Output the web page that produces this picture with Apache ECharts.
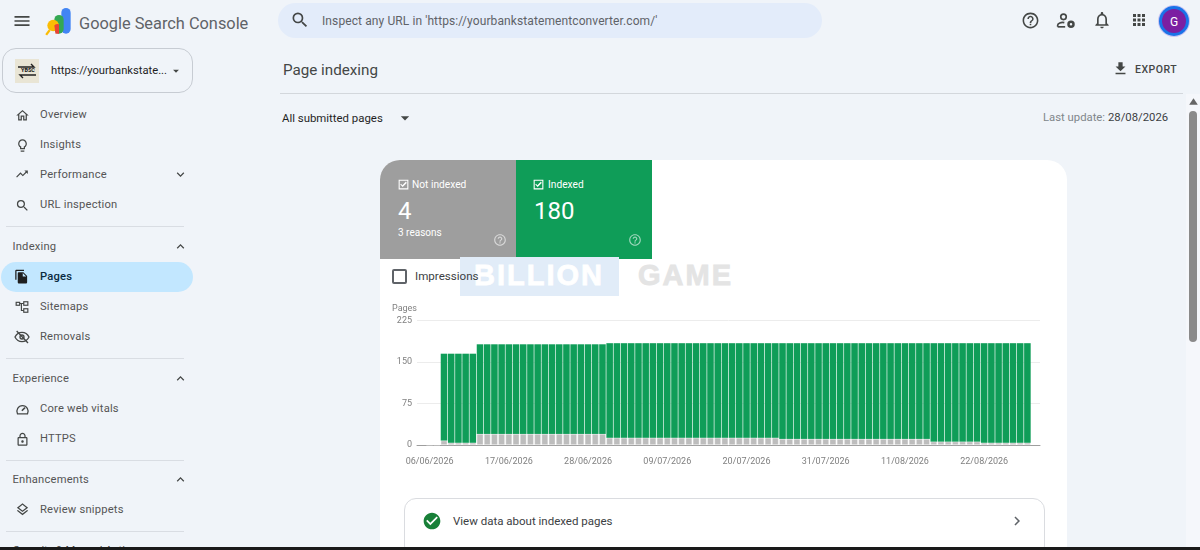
<!DOCTYPE html>
<html>
<head>
<meta charset="utf-8">
<script src="https://cdn.jsdelivr.net/npm/echarts@6/dist/echarts.min.js"></script>
<style>
html,body{margin:0;padding:0;width:1200px;height:550px;overflow:hidden;background:#f0f4f9;font-family:Roboto,sans-serif}
.box{position:absolute;box-sizing:border-box}
.t{position:absolute;white-space:nowrap;transform:translateY(-50%);line-height:1}
svg{position:absolute}
#salesChart{position:absolute;left:380px;top:300px;width:680px;height:170px}
</style>
</head>
<body>
<div id="page"></div>
<div id="salesChart"></div>
<script>
'use strict'
var dates = [
  '06/06/2026','07/06/2026','08/06/2026','09/06/2026','10/06/2026','11/06/2026','12/06/2026','13/06/2026','14/06/2026','15/06/2026','16/06/2026',
  '17/06/2026','18/06/2026','19/06/2026','20/06/2026','21/06/2026','22/06/2026','23/06/2026','24/06/2026','25/06/2026','26/06/2026','27/06/2026',
  '28/06/2026','29/06/2026','30/06/2026','01/07/2026','02/07/2026','03/07/2026','04/07/2026','05/07/2026','06/07/2026','07/07/2026','08/07/2026',
  '09/07/2026','10/07/2026','11/07/2026','12/07/2026','13/07/2026','14/07/2026','15/07/2026','16/07/2026','17/07/2026','18/07/2026','19/07/2026',
  '20/07/2026','21/07/2026','22/07/2026','23/07/2026','24/07/2026','25/07/2026','26/07/2026','27/07/2026','28/07/2026','29/07/2026','30/07/2026',
  '31/07/2026','01/08/2026','02/08/2026','03/08/2026','04/08/2026','05/08/2026','06/08/2026','07/08/2026','08/08/2026','09/08/2026','10/08/2026',
  '11/08/2026','12/08/2026','13/08/2026','14/08/2026','15/08/2026','16/08/2026','17/08/2026','18/08/2026','19/08/2026','20/08/2026','21/08/2026',
  '22/08/2026','23/08/2026','24/08/2026','25/08/2026','26/08/2026','27/08/2026','28/08/2026'
];
var notIndexed = [
  0,0,8,4,4,4,4,
  20,20,20,20,20,20,20,20,20,20,20,20,20,20,20,20,20,20,
  13,13,13,13,13,13,13,13,13,13,13,13,13,13,13,13,13,13,13,13,13,13,13,13,
  11,11,11,11,11,11,11,11,11,11,11,11,11,11,11,11,11,11,11,11,11,
  6,6,6,6,6,6,6,
  4,4,4,4,4,4,4
];
var indexed = [
  0,0,157,161,161,161,161,
  162,162,162,162,162,162,162,162,162,162,162,162,162,162,162,162,162,162,
  171,171,171,171,171,171,171,171,171,171,171,171,171,171,171,171,171,171,171,171,171,171,171,171,
  173,173,173,173,173,173,173,173,173,173,173,173,173,173,173,173,173,173,173,173,173,
  178,178,178,178,178,178,178,
  180,180,180,180,180,180,180
];

// page around the chart
var page = document.getElementById('page');
var P = {
  menu:'M3 18h18v-2H3v2zm0-5h18v-2H3v2zm0-7v2h18V6H3z',
  search:'M15.5 14h-.79l-.28-.27A6.471 6.471 0 0 0 16 9.5 6.5 6.5 0 1 0 9.5 16c1.61 0 3.09-.59 4.23-1.57l.27.28v.79l5 4.99L20.49 19l-4.99-5zm-6 0C7.01 14 5 11.99 5 9.5S7.01 5 9.5 5 14 7.01 14 9.5 11.99 14 9.5 14z',
  help:'M11 18h2v-2h-2v2zm1-16C6.48 2 2 6.48 2 12s4.48 10 10 10 10-4.48 10-10S17.52 2 12 2zm0 18c-4.41 0-8-3.59-8-8s3.59-8 8-8 8 3.59 8 8-3.59 8-8 8zm0-14c-2.21 0-4 1.79-4 4h2c0-1.1.9-2 2-2s2 .9 2 2c0 2-3 1.75-3 5h2c0-2.25 3-2.5 3-5 0-2.21-1.79-4-4-4z',
  bell:'M12 22c1.1 0 2-.9 2-2h-4c0 1.1.89 2 2 2zm6-6v-5c0-3.07-1.64-5.64-4.5-6.32V4c0-.83-.67-1.5-1.5-1.5s-1.5.67-1.5 1.5v.68C7.63 5.36 6 7.92 6 11v5l-2 2v1h16v-1l-2-2zm-2 1H8v-6c0-2.48 1.51-4.5 4-4.5s4 2.02 4 4.5v6z',
  apps:'M4 8h4V4H4v4zm6 12h4v-4h-4v4zm-6 0h4v-4H4v4zm0-6h4v-4H4v4zm6 0h4v-4h-4v4zm6-10v4h4V4h-4zm-6 4h4V4h-4v4zm6 6h4v-4h-4v4zm0 6h4v-4h-4v4z',
  home:'M12 5.69l5 4.5V18h-2v-6H9v6H7v-7.81l5-4.5M12 3L2 12h3v8h6v-6h2v6h6v-8h3L12 3z',
  bulb:'M9 21c0 .55.45 1 1 1h4c.55 0 1-.45 1-1v-1H9v1zm3-19C8.14 2 5 5.14 5 9c0 2.38 1.19 4.47 3 5.74V17c0 .55.45 1 1 1h6c.55 0 1-.45 1-1v-2.26c1.81-1.27 3-3.36 3-5.74 0-3.86-3.14-7-7-7zm2.85 11.1l-.85.6V16h-4v-2.3l-.85-.6C7.8 12.16 7 10.63 7 9c0-2.76 2.24-5 5-5s5 2.24 5 5c0 1.63-.8 3.16-2.15 4.1z',
  trend:'M16 6l2.29 2.29-4.88 4.88-4-4L2 16.59 3.41 18l6-6 4 4 6.3-6.29L22 12V6z',
  more:'M16.59 8.59L12 13.17 7.41 8.59 6 10l6 6 6-6z',
  less:'M12 8l-6 6 1.41 1.41L12 10.83l4.59 4.58L18 14z',
  pages:'M16 1H4c-1.1 0-2 .9-2 2v14h2V3h12V1zm-1 4l6 6v10c0 1.1-.9 2-2 2H7.99C6.89 23 6 22.1 6 21l.01-14c0-1.1.89-2 1.99-2h7zm-1 7h5.5L14 6.5V12z',
  lock:'M18 8h-1V6c0-2.76-2.24-5-5-5S7 3.24 7 6v2H6c-1.1 0-2 .9-2 2v10c0 1.1.9 2 2 2h12c1.1 0 2-.9 2-2V10c0-1.1-.9-2-2-2zM9 6c0-1.66 1.34-3 3-3s3 1.34 3 3v2H9V6zm9 14H6V10h12v10zm-6-3c1.1 0 2-.9 2-2s-.9-2-2-2-2 .9-2 2 .9 2 2 2z',
  layers:'M11.99 18.54l-7.37-5.73L3 14.07l9 7 9-7-1.63-1.27-7.38 5.74zM12 16l7.36-5.73L21 9l-9-7-9 7 1.63 1.27L12 16zm0-11.47L17.74 9 12 13.47 6.26 9 12 4.53z',
  check:'M12 2C6.48 2 2 6.48 2 12s4.48 10 10 10 10-4.48 10-10S17.52 2 12 2zm-2 15l-5-5 1.41-1.41L10 14.17l7.59-7.59L19 8l-9 9z',
  right:'M10 6L8.59 7.41 13.17 12l-4.58 4.59L10 18l6-6z',
  down:'M19 9h-4V3H9v6H5l7 7 7-7zM5 18v2h14v-2H5z',
  drop:'M7 10l5 5 5-5z',
  tick:'M3 3h18v18H3V3zm2 2v14h14V5H5zm5 11l-4-4 1.4-1.4 2.6 2.6 6.6-6.6L18 9l-8 8z'
};
function box(x, y, w, h, css) {
  var d = document.createElement('div');
  d.className = 'box';
  d.style.cssText = 'left:' + x + 'px;top:' + y + 'px;width:' + w + 'px;height:' + h + 'px;' + (css || '');
  page.appendChild(d);
}
function text(s, x, y, size, color, css) {
  var d = document.createElement('div');
  d.className = 't';
  d.textContent = s;
  d.style.cssText = 'left:' + x + 'px;top:' + y + 'px;font-size:' + size + 'px;color:' + color + ';' + (css || '');
  page.appendChild(d);
}
function svg(inner, cx, cy, size, color) {
  var s = '<svg viewBox="0 0 24 24" width="' + size + '" height="' + size + '" style="left:' + (cx - size / 2) + 'px;top:' + (cy - size / 2) + 'px;color:' + color + '">' + inner + '</svg>';
  page.insertAdjacentHTML('beforeend', s);
}
function icon(name, cx, cy, size, color) {
  svg('<path fill="currentColor" d="' + P[name] + '"/>', cx, cy, size, color);
}

// header
icon('menu', 22, 21, 20, '#444746');
svg('<rect x="14" y="0" width="8" height="22" rx="4" fill="#4285f4"/><rect x="8" y="6" width="8" height="16" rx="4" fill="#34a853"/><circle cx="7" cy="15" r="5" fill="#fbbc04"/><path d="M8 15a4 4 0 0 1 4-1v8H9z" fill="#ea4335"/><path d="M4 19l-3 4" stroke="#fbbc04" stroke-width="2"/>', 59, 22, 28, '#000');
text('Google Search Console', 79, 23.5, 16.35, '#5f6368');
box(278, 3, 544, 35, 'background:#e3ecfa;border-radius:18px');
icon('search', 300, 20, 20, '#444746');
text("Inspect any URL in 'https://yourbankstatementconverter.com/'", 322, 20.5, 12, '#5f6368', 'letter-spacing:.1px');
icon('help', 1030, 20, 19, '#444746');
svg('<circle cx="9" cy="7" r="3.3" fill="none" stroke="currentColor" stroke-width="2"/><path d="M2 19v-2c0-2 4-4 8-3" fill="none" stroke="currentColor" stroke-width="2"/><path d="M2 19h9" stroke="currentColor" stroke-width="2"/><circle cx="18" cy="16" r="3" fill="none" stroke="currentColor" stroke-width="3"/>', 1066, 21, 20, '#444746');
icon('bell', 1102, 20, 20, '#444746');
icon('apps', 1139, 20, 18, '#444746');
box(1159, 6, 30, 30, 'border-radius:50%;background:#1a73e8;box-shadow:0 0 0 1px #c9c4f2');
box(1162, 9, 24, 24, 'border-radius:50%;background:#7b1fa2');
text('G', 1170, 21.5, 12, '#fff');

// sidebar
box(2, 48, 191, 45, 'border:1px solid #c7ccd3;border-radius:14px');
box(15, 59, 24, 24, 'background:#e9e5d5');
svg('<path d="M3 8h16l-3-3M21 16H5l3 3" fill="none" stroke="#222" stroke-width="1.4"/>', 27, 71, 24, '#222');
text('YBSC', 21, 71, 5.5, '#111', 'font-weight:700');
text('https://yourbankstate...', 51, 70.5, 11.2, '#1f1f1f');
icon('drop', 176, 71, 14, '#444746');
box(1, 262, 192, 30, 'background:#c2e7ff;border-radius:15px');
var navNames = ['Overview','Insights','Performance','URL inspection','Pages','Sitemaps','Removals','Core web vitals','HTTPS','Review snippets'];
var navY = [115,145,175,205,277,307,337,409,439,510];
navNames.forEach(function (n, i) {
  text(n, 40, navY[i], 11.2, n === 'Pages' ? '#0b2b3f' : '#555', 'letter-spacing:.2px' + (n === 'Pages' ? ';font-weight:500' : ''));
});
icon('home', 22, 115, 15, '#444746');
icon('bulb', 22, 145, 15, '#444746');
icon('trend', 22, 174, 14, '#444746');
icon('search', 22, 205, 15, '#444746');
icon('pages', 21, 276, 15, '#1f1f1f');
svg('<rect x="2" y="4" width="6" height="5" fill="none" stroke="currentColor" stroke-width="2"/><rect x="15" y="3" width="7" height="6" fill="none" stroke="currentColor" stroke-width="2"/><rect x="15" y="15" width="7" height="6" fill="none" stroke="currentColor" stroke-width="2"/><path d="M8 6h7M11 6v12h4" fill="none" stroke="currentColor" stroke-width="2"/>', 22, 307, 14, '#444746');
svg('<path d="M1.5 12C4 7 8 5 12 5s8 2 10.5 7C20 17 16 19 12 19S4 17 1.5 12z" fill="none" stroke="currentColor" stroke-width="2"/><circle cx="12" cy="12" r="3" fill="none" stroke="currentColor" stroke-width="2"/><path d="M4 3l17 18" stroke="currentColor" stroke-width="2"/>', 22, 337, 16, '#444746');
svg('<path d="M4 19a9 9 0 1 1 16 0z" fill="none" stroke="currentColor" stroke-width="2"/><path d="M11 14l5-5" stroke="currentColor" stroke-width="2.5"/>', 22, 409, 15, '#444746');
icon('lock', 22, 439, 15, '#444746');
icon('layers', 22, 509, 15, '#444746');
var headNames = ['Indexing','Experience','Enhancements'];
var headY = [247,379,480];
headNames.forEach(function (n, i) {
  text(n, 12.5, headY[i], 11.2, '#555', 'letter-spacing:.2px');
  icon('less', 180, headY[i] - 0.5, 15, '#444746');
});
icon('more', 180, 174.5, 15, '#444746');
[226,358,460,531].forEach(function (y) { box(6, y, 178, 1, 'background:#d9dde3'); });
text('Security & Manual Actions', 13, 551, 11.2, '#444');

// title row
text('Page indexing', 283, 70.5, 15.2, '#444746');
box(280, 93, 903, 1, 'background:#d3d7dc');
icon('down', 1120, 68, 17, '#444746');
text('EXPORT', 1135, 69.5, 10.5, '#444746', 'letter-spacing:.5px;font-weight:500');
text('All submitted pages', 282, 118.5, 11.4, '#1f1f1f');
icon('drop', 405, 118, 20, '#444746');
text('Last update:', 1043, 117.5, 11.3, '#80868b');
text('28/08/2026', 1108, 117.5, 11.3, '#3c4043');

// scrollbar
box(1186, 94, 14, 454, 'background:#f5f7fb');
svg('<path d="M4 18L12 6l8 12z" fill="currentColor"/>', 1193, 101, 13, '#666');
box(1189, 111, 8, 231, 'background:#8a8a8a;border-radius:4px');

// card with the two status tiles
box(380, 160, 687, 400, 'background:#fff;border-radius:20px 20px 0 0');
box(380, 160, 136, 99, 'background:#9e9e9e;border-radius:20px 0 0 0');
box(516, 160, 136, 99, 'background:#0f9d58');
icon('tick', 403, 184, 13, '#fff');
text('Not indexed', 412, 184.5, 10.2, '#fff');
text('4', 398, 211, 24, '#fff');
text('3 reasons', 398, 232.5, 10, '#fff');
icon('help', 500, 240, 14, 'rgba(255,255,255,.6)');
icon('tick', 538, 184, 13, '#fff');
text('Indexed', 548, 184.5, 10.2, '#fff');
text('180', 534, 211, 24, '#fff');
icon('help', 635, 240, 14, 'rgba(255,255,255,.6)');

// impressions toggle and watermark
var wmark = 'font-weight:700;letter-spacing:2px;font-family:Liberation Sans;-webkit-text-stroke:.8px ';
box(460, 257, 159, 39, 'background:#e1ecf8');
text('BILLION', 474, 275, 29, '#fff', wmark + '#fff');
text('GAME', 638, 275, 29, '#e4e4e4', wmark + '#e4e4e4');
box(392, 269, 15, 15, 'border:2px solid #5f6368;border-radius:2px');
text('Impressions', 415, 276.5, 11.6, '#3c4043');

// row under the chart
box(404, 498, 641, 60, 'border:1px solid #dadce0;border-radius:12px;background:#fff');
icon('check', 432, 521, 20, '#188038');
text('View data about indexed pages', 453, 521.5, 11.5, '#3c4043');
icon('right', 1017, 521, 18, '#5f6368');
box(0, 547, 1200, 3, 'background:#1a1a1a');

var salesChart_chart = echarts.init(document.getElementById('salesChart'));
salesChart_chart.setOption({
  animation: false,
  grid: [
    { left: 37, top: 20.5, width: 623, height: 124.5 },
    { left: 46, top: 20.5, width: 605, height: 124.5 }
  ],
  xAxis: [
    {
      type: 'category',
      gridIndex: 0,
      data: [''],
      axisTick: { show: false },
      axisLabel: { show: false },
      axisLine: { lineStyle: { color: '#9e9e9e', width: 1 } }
    },
    {
      type: 'category',
      gridIndex: 1,
      data: dates,
      axisTick: { show: false },
      axisLine: { show: false },
      axisLabel: {
        interval: 10,
        hideOverlap: false,
        margin: 12,
        color: '#808080',
        fontFamily: 'Roboto',
        fontSize: 9
      }
    }
  ],
  yAxis: [
    {
      type: 'value',
      gridIndex: 0,
      min: 0,
      max: 225,
      interval: 75,
      name: 'Pages',
      nameGap: 7,
      nameTextStyle: { color: '#808080', fontFamily: 'Roboto', fontSize: 9, align: 'right' },
      axisLine: { show: false },
      axisTick: { show: false },
      axisLabel: { margin: 5, padding: [4, 0, 0, 0], color: '#808080', fontFamily: 'Roboto', fontSize: 9 },
      splitLine: { lineStyle: { color: '#ececec', width: 1 } }
    },
    {
      type: 'value',
      gridIndex: 1,
      min: 0,
      max: 225,
      interval: 75,
      show: false
    }
  ],
  series: [
    {
      name: 'Not indexed',
      type: 'bar',
      stack: 'pages',
      xAxisIndex: 1,
      yAxisIndex: 1,
      barCategoryGap: '9%',
      data: notIndexed,
      itemStyle: { color: '#bdbdbd', borderColor: 'rgba(255,255,255,0.55)', borderWidth: 0.6 }
    },
    {
      name: 'Indexed',
      type: 'bar',
      stack: 'pages',
      xAxisIndex: 1,
      yAxisIndex: 1,
      barCategoryGap: '9%',
      data: indexed,
      itemStyle: { color: '#0f9d58' }
    }
  ]
});
</script>
</body>
</html>
